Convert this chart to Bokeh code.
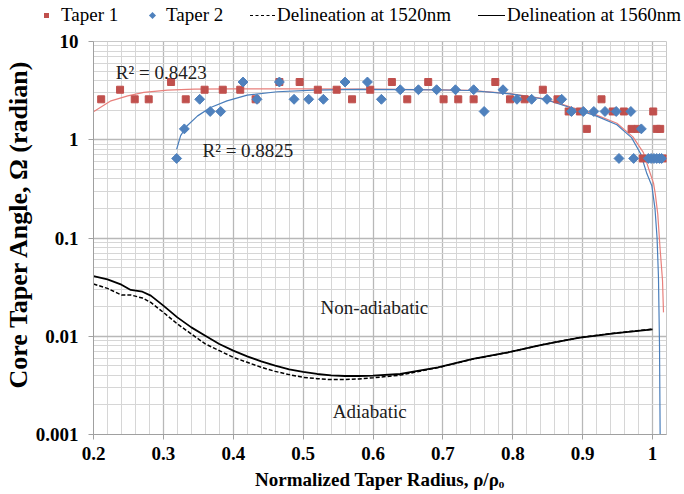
import math
from bokeh.plotting import figure
from bokeh.layouts import column
from bokeh.models import (FixedTicker, CustomJSTickFormatter, Label, Range1d, Title, Div)
from bokeh.embed import file_html
from bokeh.resources import INLINE

# ---------------- data ----------------
x_ticks = [0.2, 0.3, 0.4, 0.5, 0.6, 0.7, 0.8, 0.9, 1.0]
y_ticks = [0.001, 0.01, 0.1, 1, 10]

taper1_x = [0.211, 0.238, 0.259, 0.279, 0.311, 0.332, 0.359, 0.385, 0.410, 0.432,
            0.466, 0.495, 0.521, 0.548, 0.570, 0.596, 0.627, 0.649, 0.679, 0.701,
            0.722, 0.744, 0.775, 0.796, 0.817, 0.843, 0.864, 0.880, 0.896, 0.906,
            0.927, 0.943, 0.959, 0.970, 0.979, 0.986, 1.001, 1.006, 1.011, 1.016]
taper1_y = [2.58, 3.23, 2.58, 2.58, 3.87, 2.58, 3.23, 3.23, 3.23, 2.58,
            3.87, 3.87, 3.23, 3.23, 2.58, 3.23, 3.87, 2.58, 3.87, 2.58,
            2.58, 2.58, 3.87, 2.58, 2.58, 3.23, 2.58, 1.94, 1.94, 1.29,
            2.58, 1.94, 1.94, 1.29, 1.29, 0.645, 1.94, 1.29, 1.29, 0.645]

taper2_x = [0.319, 0.330, 0.352, 0.367, 0.382, 0.414, 0.434, 0.466, 0.487, 0.508,
            0.529, 0.560, 0.592, 0.612, 0.639, 0.665, 0.691, 0.718, 0.744, 0.759,
            0.786, 0.806, 0.827, 0.849, 0.870, 0.884, 0.901, 0.916, 0.932, 0.948,
            0.969, 0.952, 0.973, 0.984, 0.994, 0.998, 1.002, 1.006, 1.010, 1.013]
taper2_y = [0.645, 1.29, 2.58, 1.94, 1.94, 3.87, 2.58, 3.87, 2.58, 2.58,
            2.58, 3.87, 3.87, 2.58, 3.23, 3.23, 3.23, 3.23, 3.23, 1.94,
            3.23, 2.58, 2.58, 2.58, 2.58, 1.94, 1.94, 1.94, 1.94, 1.94,
            1.94, 0.645, 0.645, 1.29, 0.645, 0.645, 0.645, 0.645, 0.645, 0.645]

trend1_x = [0.200, 0.225, 0.249, 0.272, 0.306, 0.344, 0.40, 0.50, 0.60, 0.70,
            0.739, 0.796, 0.844, 0.882, 0.920, 0.949, 0.972, 0.987, 0.996, 1.0015,
            1.004, 1.0075, 1.0107, 1.0143, 1.0157]
trend1_y = [1.93, 2.49, 2.80, 3.03, 3.20, 3.27, 3.30, 3.30, 3.28, 3.22,
            3.18, 2.95, 2.62, 2.16, 1.78, 1.47, 1.07, 0.74, 0.47, 0.36,
            0.28, 0.175, 0.08, 0.037, 0.0175]

trend2_x = [0.319, 0.3247, 0.334, 0.349, 0.3676, 0.391, 0.42, 0.463, 0.515, 0.582,
            0.65, 0.70, 0.739, 0.796, 0.844, 0.882, 0.920, 0.949, 0.970, 0.983,
            0.992, 0.999, 1.0035, 1.0065, 1.0085, 1.0100, 1.0109]
trend2_y = [0.80, 1.10, 1.39, 1.75, 2.13, 2.49, 2.85, 3.08, 3.20, 3.25,
            3.24, 3.21, 3.17, 2.93, 2.60, 2.13, 1.74, 1.42, 1.05, 0.72,
            0.45, 0.34, 0.2, 0.1, 0.04, 0.008, 0.001]

d1560_x = [0.200, 0.220, 0.240, 0.2533, 0.270, 0.282, 0.300, 0.320, 0.340, 0.360,
           0.380, 0.400, 0.420, 0.440, 0.460, 0.480, 0.500, 0.520, 0.540, 0.560,
           0.580, 0.600, 0.639, 0.693, 0.743, 0.793, 0.843, 0.894, 0.945, 1.000]
d1560_y = [0.0410, 0.0379, 0.0335, 0.0296, 0.0284, 0.0259, 0.0205, 0.01557, 0.01231, 0.01014,
           0.00835, 0.00714, 0.00624, 0.00555, 0.00502, 0.00460, 0.00433, 0.00413, 0.00400, 0.00394,
           0.00394, 0.00397, 0.00413, 0.00483, 0.00588, 0.00686, 0.00821, 0.00961, 0.01070, 0.01175]

d1520_x = [0.200, 0.220, 0.240, 0.2533, 0.270, 0.282, 0.300, 0.320, 0.340, 0.360,
           0.380, 0.400, 0.420, 0.440, 0.460, 0.480, 0.500, 0.520, 0.540, 0.560,
           0.580, 0.600, 0.639, 0.693, 0.743, 0.793, 0.843, 0.894, 0.945, 1.000]
d1520_y = [0.0340, 0.0307, 0.0263, 0.0263, 0.0245, 0.0221, 0.0175, 0.01334, 0.01055, 0.00835,
           0.00714, 0.00610, 0.00543, 0.00483, 0.00439, 0.00407, 0.00382, 0.00370, 0.00362, 0.00362,
           0.00368, 0.00377, 0.00402, 0.00480, 0.00585, 0.00684, 0.00822, 0.00965, 0.01075, 0.0118]

series_names = ["Taper 1", "Taper 2", "Delineation at 1520nm", "Delineation at 1560nm"]

# ---------------- style ----------------
SERIF = "Liberation Serif"
RED = "#c0504d"
BLUE = "#4f81bd"

# ---------------- main figure ----------------
p = figure(frame_width=573, frame_height=393, x_range=Range1d(0.2, 1.02), y_range=Range1d(0.001, 10),
           y_axis_type="log", output_backend="svg", toolbar_location=None,
           min_border_left=93, min_border_right=18, min_border_top=10, min_border_bottom=44)
p.background_fill_color = "white"
p.border_fill_color = "white"
p.outline_line_color = "#c8c8c8"

x_minor = [round(0.2 + 0.02 * i, 2) for i in range(42)]
y_minor = [k * 10.0 ** e for e in range(-3, 1) for k in range(2, 10)]
p.xaxis.ticker = FixedTicker(ticks=x_ticks, minor_ticks=x_minor)
p.yaxis.ticker = FixedTicker(ticks=y_ticks, minor_ticks=y_minor)
p.xaxis.formatter = CustomJSTickFormatter(code="return String(parseFloat(tick.toFixed(2)));")
p.yaxis.formatter = CustomJSTickFormatter(code="return String(parseFloat(tick.toPrecision(3)));")

for ax in (p.xaxis, p.yaxis):
    ax.axis_line_color = "#a0a0a0"
    ax.major_tick_line_color = "#a0a0a0"
    ax.major_tick_out = 5
    ax.major_tick_in = 0
    ax.minor_tick_line_color = None
    ax.major_label_text_font = SERIF
    ax.major_label_text_font_style = "bold"
    ax.major_label_text_font_size = "19px"
    ax.major_label_text_color = "black"
    ax.axis_label_text_font = SERIF
    ax.axis_label_text_font_style = "bold"
    ax.axis_label_text_color = "black"

p.xaxis.major_label_standoff = 7
p.xaxis.axis_label = "Normalized Taper Radius, ρ/ρₒ"
p.xaxis.axis_label_text_font_size = "19px"
p.xaxis.axis_label_standoff = 6
p.yaxis.major_label_standoff = 10

# y-axis title as a side title, starting a little above the frame bottom (as in the reference)
p.add_layout(Title(text="Core Taper Angle, Ω (radian)", align="left", offset=46, standoff=0,
                   text_font=SERIF, text_font_style="bold", text_font_size="26px",
                   text_color="black"), "left")

for g in (p.xgrid, p.ygrid):
    g.grid_line_color = "#b8b8b8"
    g.grid_line_width = 1.3
    g.minor_grid_line_color = "#d6d6d6"
    g.minor_grid_line_width = 1

# delineation curves
p.line(d1520_x, d1520_y, line_color="black", line_width=1.5, line_dash="4 2")
p.line(d1560_x, d1560_y, line_color="black", line_width=1.8)

# trend lines
p.line(trend1_x, trend1_y, line_color="#e8807c", line_width=1.2)
p.line(trend2_x, trend2_y, line_color="#4a7ebb", line_width=1.2)

# data points
p.scatter(taper1_x, taper1_y, marker="square", size=7, fill_color=RED, line_color=RED)
p.scatter(taper2_x, taper2_y, marker="square", angle=math.pi / 4, size=7,
          fill_color=BLUE, line_color=BLUE)

# annotations
def add_label(x, y, txt, align="left"):
    p.add_layout(Label(x=x, y=y, text=txt, text_font=SERIF, text_font_size="19px",
                       text_color="#202020", text_align=align, text_baseline="middle"))

add_label(0.232, 4.84, "R² = 0.8423")
add_label(0.356, 0.773, "R² = 0.8825")
add_label(0.602, 0.0198, "Non-adiabatic", "center")
add_label(0.5954, 0.00171, "Adiabatic", "center")

# ---------------- legend strip above the chart ----------------
txt = "position:absolute;top:5px;font-family:'Liberation Serif';font-size:19px;line-height:20px;color:black;white-space:nowrap;"
legend_html = (
    '<div style="position:relative;width:684px;height:31px;">'
    f'<span style="position:absolute;left:44px;top:13px;width:5px;height:5px;background:{RED};"></span>'
    f'<span style="{txt}left:61px;">{series_names[0]}</span>'
    f'<span style="position:absolute;left:150px;top:13px;width:5px;height:5px;background:{BLUE};transform:rotate(45deg);"></span>'
    f'<span style="{txt}left:166px;">{series_names[1]}</span>'
    '<span style="position:absolute;left:250px;top:15px;width:25px;height:0;border-top:1.5px dashed black;"></span>'
    f'<span style="{txt}left:277px;">{series_names[2]}</span>'
    '<span style="position:absolute;left:478px;top:15px;width:27px;height:0;border-top:1.6px solid black;"></span>'
    f'<span style="{txt}left:507px;">{series_names[3]}</span>'
    '</div>'
)
legend_div = Div(text=legend_html, width=684, height=31, margin=0)

layout = column(legend_div, p, spacing=0)
open("out.html", "w").write(file_html(layout, INLINE))
